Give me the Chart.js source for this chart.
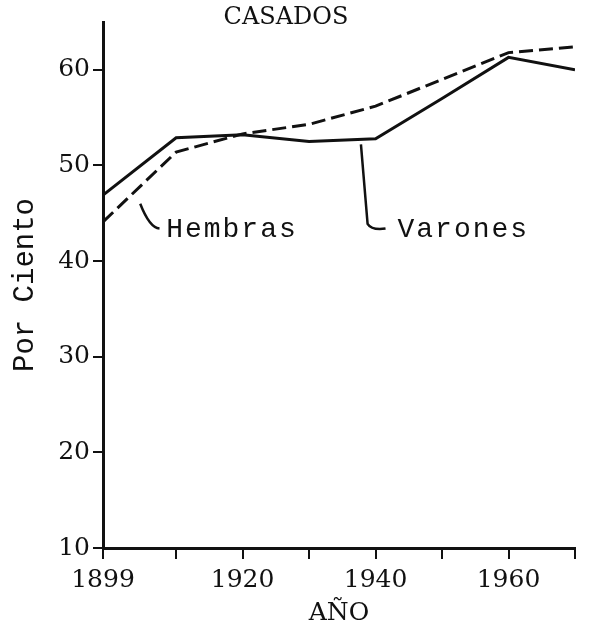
<!DOCTYPE html>
<html>
<head>
<meta charset="utf-8">
<script src="https://cdn.jsdelivr.net/npm/chart.js@4/dist/chart.umd.min.js"></script>
<style>
  body { margin: 0; background: #fff; }
  canvas { display: block; }
</style>
</head>
<body>
<canvas id="chart" width="589" height="630"></canvas>
<script>
// census years and percentages
var years = [1899, 1910, 1920, 1930, 1940, 1950, 1960, 1970];
var varones = [46.9, 52.9, 53.2, 52.5, 52.8, 57.0, 61.3, 60.0];
var hembras = [44.1, 51.4, 53.3, 54.3, 56.2, 59.0, 61.8, 62.4];

var xTicks = [1899, 1910, 1920, 1930, 1940, 1950, 1960, 1970];
var xLabels = [1899, 1920, 1940, 1960];
var yTicks = [10, 20, 30, 40, 50, 60];

function toPoints(ys) {
    return years.map(function (yr, i) { return {x: yr, y: ys[i]}; });
}

var ink = '#111';

// title + the two leader-line labels
var labelsPlugin = {
    id: 'labels',
    afterDraw: function (chart) {
        var ctx = chart.ctx;
        var xs = chart.scales.x, ys = chart.scales.y;
        var area = chart.chartArea;
        ctx.save();
        ctx.fillStyle = ink;
        ctx.strokeStyle = ink;

        ctx.font = '24px "DejaVu Serif"';
        ctx.textAlign = 'center';
        ctx.textBaseline = 'middle';
        ctx.fillText('CASADOS', area.left + 183, 18);

        ctx.lineWidth = 2.5;
        // Hembras leader
        ctx.beginPath();
        ctx.moveTo(xs.getPixelForValue(1904.6), ys.getPixelForValue(46.0));
        ctx.quadraticCurveTo(xs.getPixelForValue(1906.0), ys.getPixelForValue(43.5),
                             xs.getPixelForValue(1907.5), ys.getPixelForValue(43.4));
        ctx.stroke();
        // Varones leader
        ctx.beginPath();
        ctx.moveTo(xs.getPixelForValue(1937.8), ys.getPixelForValue(52.2));
        ctx.lineTo(xs.getPixelForValue(1938.8), ys.getPixelForValue(43.9));
        ctx.quadraticCurveTo(xs.getPixelForValue(1939.4), ys.getPixelForValue(43.2),
                             xs.getPixelForValue(1941.5), ys.getPixelForValue(43.4));
        ctx.stroke();

        ctx.font = '28px "Liberation Mono"';
        ctx.letterSpacing = '2px';
        ctx.textAlign = 'left';
        ctx.fillText('Hembras', xs.getPixelForValue(1908.5), ys.getPixelForValue(43.3));
        ctx.fillText('Varones', xs.getPixelForValue(1943.3), ys.getPixelForValue(43.3));
        ctx.restore();
    }
};

var ctx = document.getElementById('chart').getContext('2d');
var chart = new Chart(ctx, {
    type: 'line',
    data: {
        datasets: [
            {
                label: 'Varones',
                data: toPoints(varones),
                borderColor: ink,
                borderWidth: 3,
                pointRadius: 0,
                tension: 0,
                fill: false
            },
            {
                label: 'Hembras',
                data: toPoints(hembras),
                borderColor: ink,
                borderWidth: 3,
                borderDash: [14, 6],
                pointRadius: 0,
                tension: 0,
                fill: false
            }
        ]
    },
    options: {
        responsive: false,
        animation: false,
        layout: {padding: {top: 22, right: 14, bottom: 0, left: 0}},
        plugins: {
            legend: {display: false},
            tooltip: {enabled: false}
        },
        scales: {
            x: {
                type: 'linear',
                min: 1899,
                max: 1970,
                afterBuildTicks: function (s) {
                    s.ticks = xTicks.map(function (v) { return {value: v}; });
                },
                afterFit: function (s) { s.height = 82; },
                ticks: {
                    autoSkip: false,
                    maxRotation: 0,
                    padding: 6,
                    color: ink,
                    font: {family: 'DejaVu Serif', size: 25},
                    callback: function (v) {
                        return xLabels.indexOf(v) >= 0 ? String(v) : '';
                    }
                },
                grid: {drawOnChartArea: false, drawTicks: true, tickLength: 11, color: ink, lineWidth: 2},
                border: {color: ink, width: 3},
                title: {
                    display: true,
                    text: 'AÑO',
                    color: ink,
                    font: {family: 'DejaVu Serif', size: 25},
                    padding: {top: 0, bottom: 2}
                }
            },
            y: {
                min: 10,
                max: 65,
                afterBuildTicks: function (s) {
                    s.ticks = yTicks.map(function (v) { return {value: v}; });
                },
                afterFit: function (s) { s.width = 103; },
                ticks: {
                    padding: 3,
                    color: ink,
                    font: {family: 'DejaVu Serif', size: 25}
                },
                grid: {drawOnChartArea: false, drawTicks: true, tickLength: 10, color: ink, lineWidth: 2},
                border: {color: ink, width: 3},
                title: {
                    display: true,
                    text: 'Por Ciento',
                    color: ink,
                    font: {family: 'Liberation Mono', size: 29},
                    padding: {top: 8, bottom: 0}
                }
            }
        }
    },
    plugins: [labelsPlugin]
});
</script>
</body>
</html>
